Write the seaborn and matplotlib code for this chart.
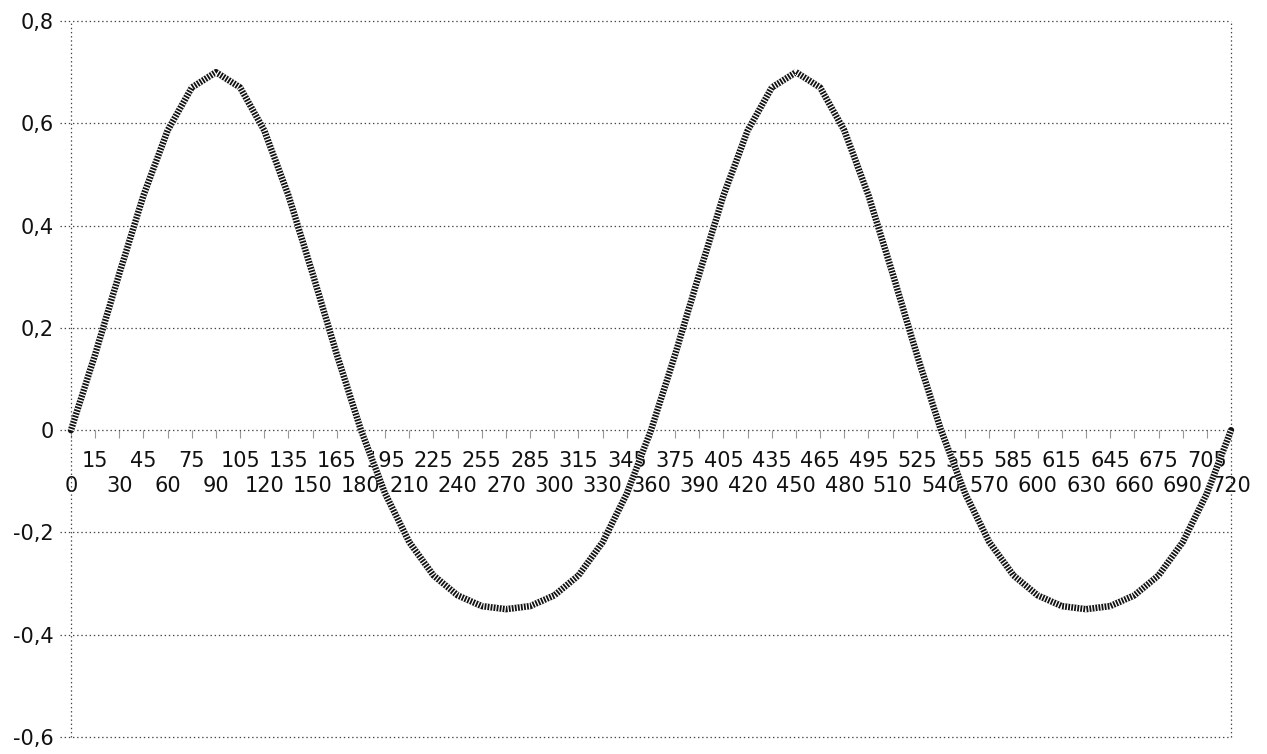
import matplotlib
matplotlib.use("Agg")
import matplotlib.pyplot as plt
import seaborn as sns
import pandas as pd

# Data (x in degrees, y value)
angles = list(range(0, 721, 15))
values = [
    0.000, 0.148, 0.306, 0.459, 0.586, 0.670, 0.700, 0.670, 0.586, 0.459, 0.306, 0.148,
    0.000, -0.124, -0.219, -0.284, -0.323, -0.344, -0.350, -0.344, -0.323, -0.284, -0.219, -0.124,
    0.000, 0.148, 0.306, 0.459, 0.586, 0.670, 0.700, 0.670, 0.586, 0.459, 0.306, 0.148,
    0.000, -0.124, -0.219, -0.284, -0.323, -0.344, -0.350, -0.344, -0.323, -0.284, -0.219, -0.124,
    0.000,
]
y_ticks = [0.8, 0.6, 0.4, 0.2, 0.0, -0.2, -0.4, -0.6]
y_tick_labels = ["0,8", "0,6", "0,4", "0,2", "0", "-0,2", "-0,4", "-0,6"]
x_tick_labels = [str(a) for a in angles]

df = pd.DataFrame({"angle": angles, "value": values})

sns.set_theme(style="white")
plt.rcParams["font.family"] = ["DejaVu Sans"]
plt.rcParams["lines.scale_dashes"] = False

fig = plt.figure(figsize=(12.67, 7.54), dpi=100)
ax = fig.add_axes([0.056, 0.0225, 0.9156, 0.9496])

# grid lines (dotted)
grid_kw = dict(color="#444444", lw=0.9, ls=(0, (1, 2)), zorder=1, clip_on=False)
for yt in y_ticks:
    ax.axhline(yt, xmin=-0.0095, xmax=1, **grid_kw)
ax.axvline(720, **grid_kw)
ax.axvline(0, **grid_kw)

# hatched curve: dark thick line overlaid with short white dashes
sns.lineplot(data=df, x="angle", y="value", ax=ax, color="#111111", lw=4.6,
             zorder=3, clip_on=False)
sns.lineplot(data=df, x="angle", y="value", ax=ax, color="white", lw=4.8,
             zorder=4, clip_on=False)
ax.lines[-1].set_dashes([0.9, 1.3])
for ln in ax.lines[-2:]:
    ln.set_solid_joinstyle("round")
    ln.set_dash_joinstyle("round")

ax.set_xlim(0, 720)
ax.set_ylim(-0.6, 0.8)
ax.set_xlabel("")
ax.set_ylabel("")

for s in ["top", "right", "left", "bottom"]:
    ax.spines[s].set_visible(False)
ax.spines["bottom"].set_position(("data", 0))

fs = 15
ax.set_yticks(y_ticks)
ax.set_yticklabels(y_tick_labels, fontsize=fs, color="#111111")
ax.tick_params(axis="y", length=0, pad=12.5)

ax.set_xticks(angles[1::2])
ax.set_xticklabels(x_tick_labels[1::2], fontsize=fs, color="#111111")
ax.set_xticks(angles[0::2], minor=True)
ax.set_xticklabels(x_tick_labels[0::2], minor=True, fontsize=fs, color="#111111")
ax.tick_params(axis="x", which="major", length=6, width=0.8, color="#999999",
               pad=9, direction="out", bottom=True)
ax.tick_params(axis="x", which="minor", length=6, width=0.8, color="#999999",
               pad=27, direction="out", bottom=True)

fig.savefig("out.png", dpi=100)
